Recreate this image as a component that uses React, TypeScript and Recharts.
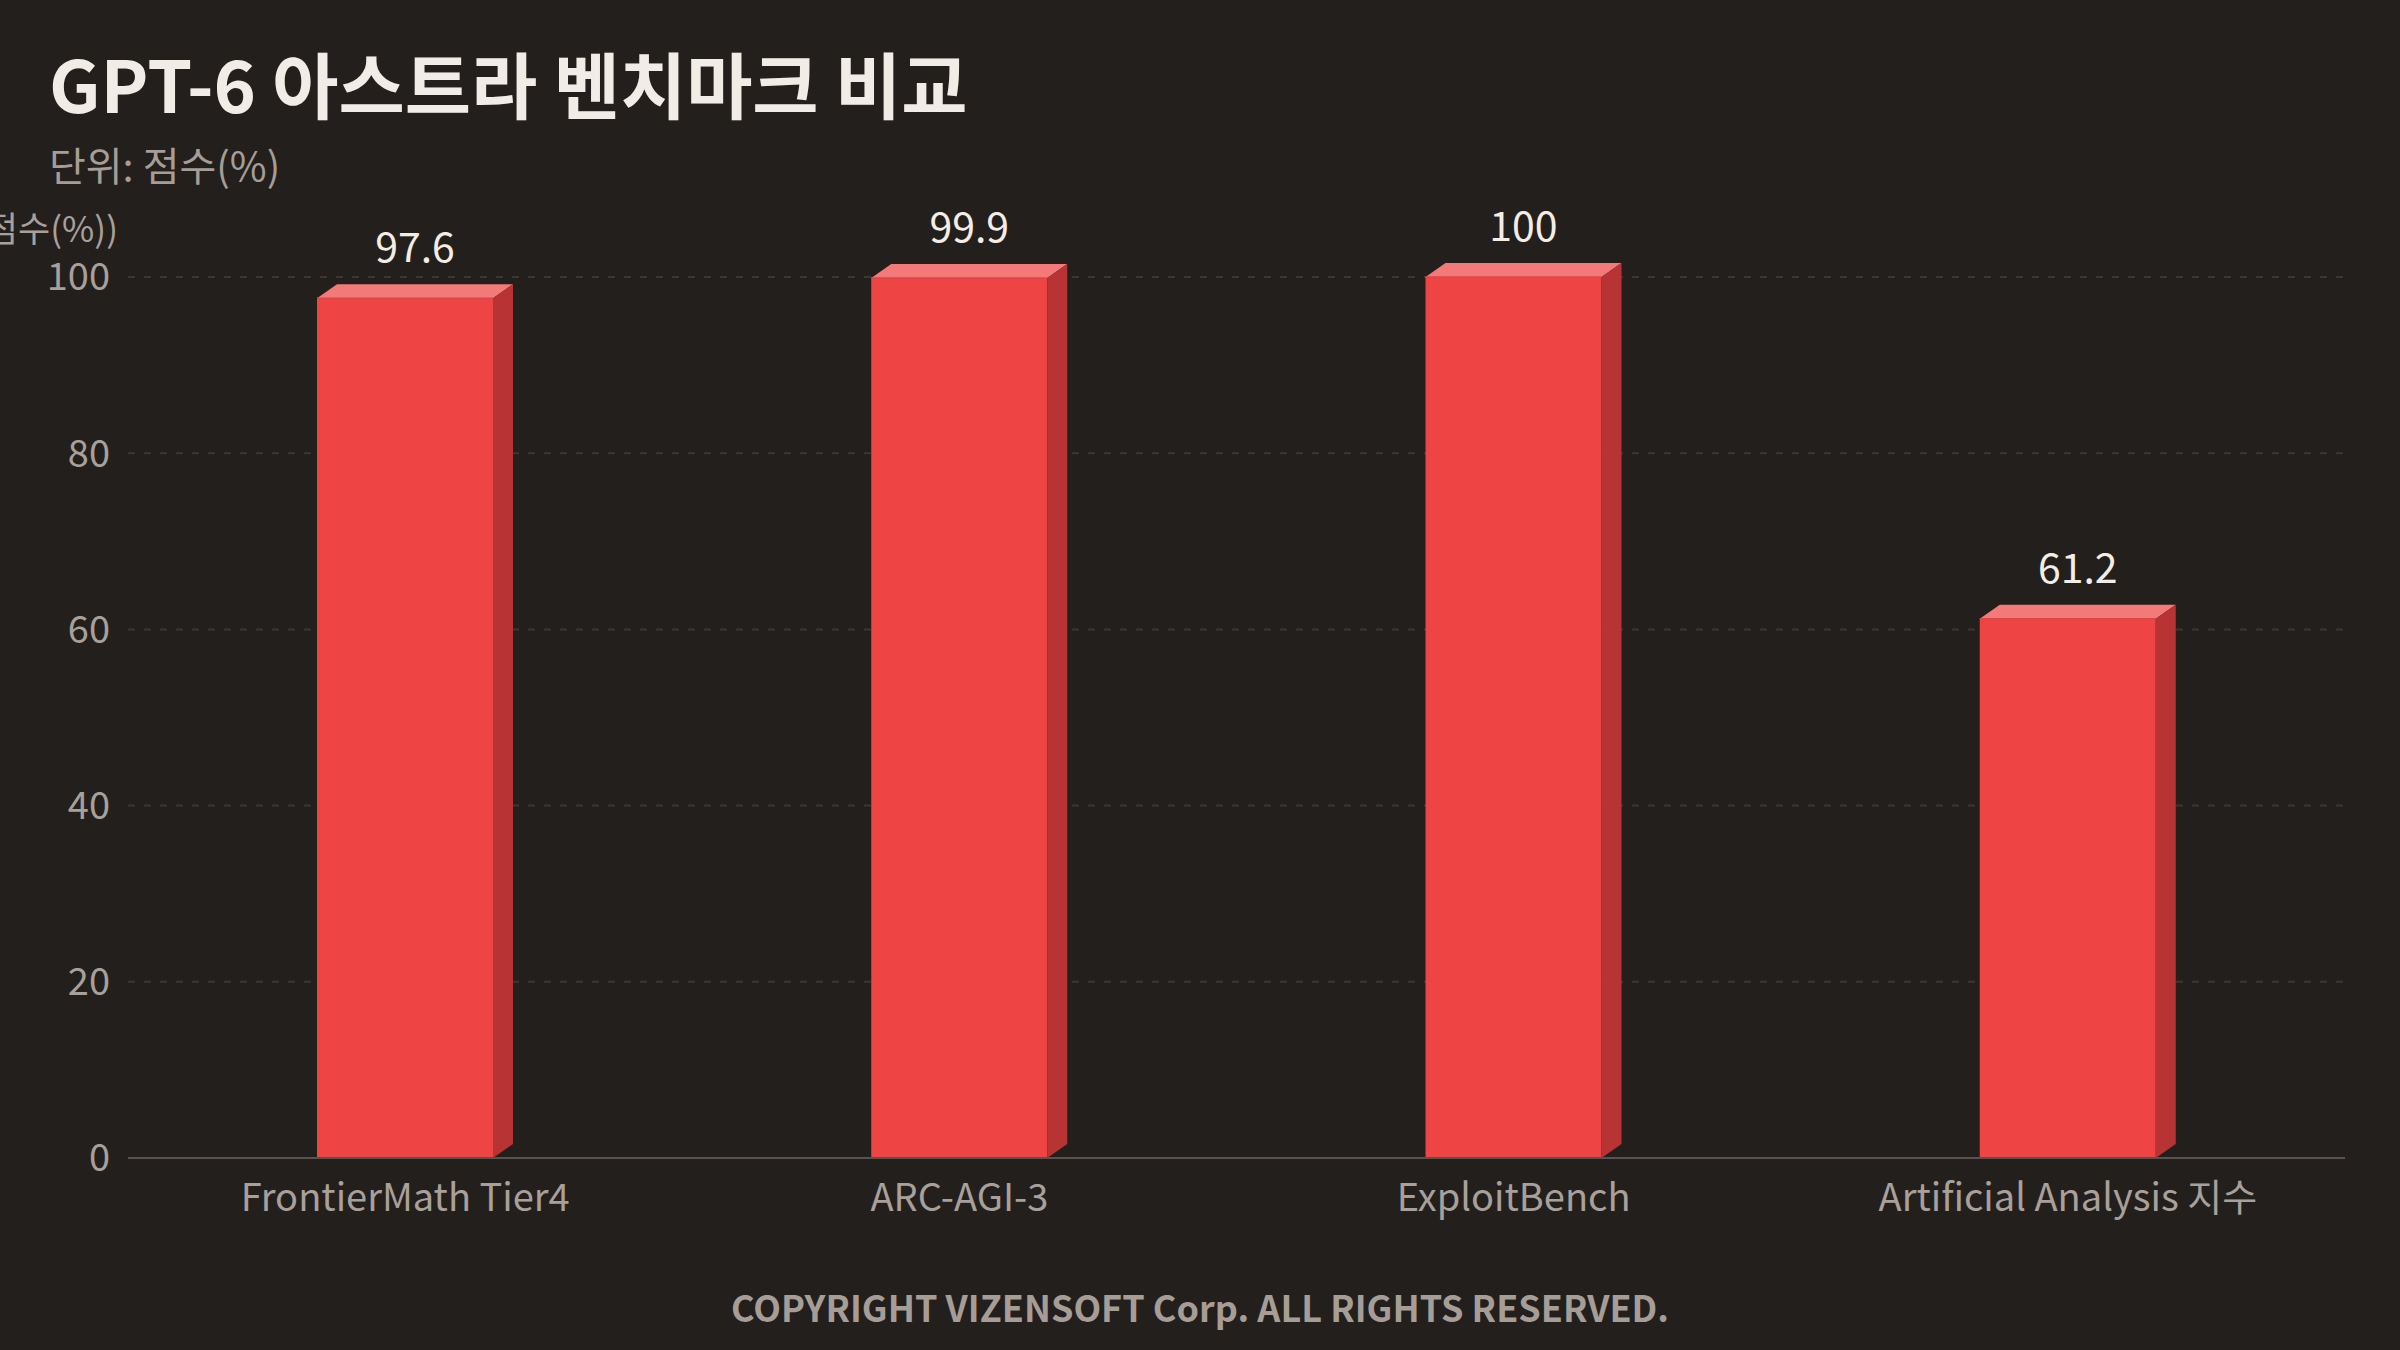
import React from 'react';
import { BarChart, Bar, XAxis, YAxis, CartesianGrid, LabelList } from 'recharts';

const categories = ['FrontierMath Tier4', 'ARC-AGI-3', 'ExploitBench', 'Artificial Analysis 지수'];
const scores = [97.6, 99.9, 100, 61.2];
const yTicks = [0, 20, 40, 60, 80, 100];

const data = categories.map((name, i) => ({ name, score: scores[i] }));

const FONT = "'Noto Sans CJK KR', 'Noto Sans', sans-serif";
const BG = '#231f1d';
const DX = 20;
const DY = 14;

const Bar3D = (props: any) => {
  const { x, y, width, height } = props;
  if (height <= 0) return null;
  const base = y + height;
  const r = x + width;
  return (
    <g>
      <rect x={x} y={y} width={width} height={height} fill="#ef4444" />
      <polygon
        points={`${x},${y} ${x + DX},${y - DY} ${r + DX},${y - DY} ${r},${y}`}
        fill="#f47a7a"
      />
      <polygon
        points={`${r},${y} ${r + DX},${y - DY} ${r + DX},${base - DY} ${r},${base}`}
        fill="#b83333"
      />
      <line x1={x} y1={y} x2={r} y2={y} stroke="#d94848" strokeWidth={1.5} />
    </g>
  );
};

const ValueLabel = (props: any) => {
  const { x, y, width, value } = props;
  return (
    <text
      x={x + width / 2 + DX / 2}
      y={y - DY - 22}
      textAnchor="middle"
      fill="#f3ede6"
      fontSize={41}
      fontFamily={FONT}
    >
      {value}
    </text>
  );
};

const App: React.FC = () => {
  return (
    <div
      style={{
        position: 'absolute',
        left: 0,
        top: 0,
        width: 2400,
        height: 1350,
        background: BG,
        fontFamily: FONT,
        overflow: 'hidden',
      }}
    >
      <div
        style={{
          position: 'absolute',
          left: 49,
          top: 109 - 0.88 * 72,
          fontSize: 72,
          fontWeight: 700,
          color: '#f2ece6',
          lineHeight: 1,
          whiteSpace: 'nowrap',
        }}
      >
        GPT-6 아스트라 벤치마크 비교
      </div>
      <div
        style={{
          position: 'absolute',
          left: 49,
          top: 179 - 0.88 * 40,
          fontSize: 40,
          color: '#a59d96',
          lineHeight: 1,
          whiteSpace: 'nowrap',
        }}
      >
        단위: 점수(%)
      </div>

      <div style={{ position: 'absolute', left: 0, top: 0 }}>
        <BarChart
          width={2400}
          height={1350}
          data={data}
          margin={{ top: 277, right: 55, bottom: 132, left: 28 }}
        >
          <CartesianGrid vertical={false} stroke="#3d3734" strokeDasharray="7 9" strokeWidth={2} />
          <XAxis
            dataKey="name"
            height={60}
            axisLine={{ stroke: '#5a524d', strokeWidth: 2 }}
            tickLine={false}
            tickMargin={20}
            tick={{ fill: '#a8a09a', fontSize: 38, fontFamily: FONT }}
          />
          <YAxis
            width={100}
            domain={[0, 100]}
            ticks={yTicks}
            axisLine={false}
            tickLine={false}
            tickMargin={12}
            tick={{ fill: '#a8a09a', fontSize: 38, fontFamily: FONT }}
          />
          <Bar dataKey="score" barSize={176} shape={Bar3D} isAnimationActive={false}>
            <LabelList dataKey="score" content={ValueLabel} />
          </Bar>
          <text
            x={118}
            y={242}
            textAnchor="end"
            fill="#a8a09a"
            fontSize={35}
            fontFamily={FONT}
          >
            점수(%))
          </text>
          <text
            x={1200}
            y={1322}
            textAnchor="middle"
            fill="#a59d96"
            fontSize={36}
            fontWeight={700}
            fontFamily={FONT}
          >
            COPYRIGHT VIZENSOFT Corp. ALL RIGHTS RESERVED.
          </text>
        </BarChart>
      </div>
    </div>
  );
};

export default App;
